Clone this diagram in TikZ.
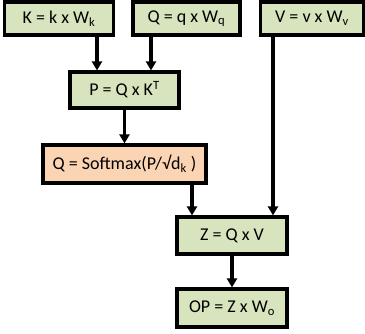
\documentclass[tikz,border=0pt]{standalone}
\usepackage{fontspec}
\setmainfont{Carlito}
\usepackage{xcolor}
\usetikzlibrary{arrows.meta,positioning,calc}

\definecolor{boxgreen}{HTML}{D7E4BD}
\definecolor{boxorange}{HTML}{FBD4B4}

\tikzset{
    opbox/.style={draw=black, line width=3.2pt, fill=boxgreen, inner sep=0pt,
        font=\fontsize{18}{20}\selectfont},
    arr/.style={line width=3.2pt, -{Triangle[length=9pt,width=10pt]}}
}

\begin{document}
\begin{tikzpicture}[x=1pt,y=-1pt]
    \useasboundingbox (0,0) rectangle (365,333);

    % Input projections
    \node[opbox, minimum width=109pt, minimum height=33pt] (K) at (59,18.5) {K = k x W\textsubscript{k}};
    \node[opbox, minimum width=107pt, minimum height=33pt] (Q) at (186.5,18.5) {Q = q x W\textsubscript{q}};
    \node[opbox, minimum width=103pt, minimum height=33pt] (V) at (312,18.5) {V = v x W\textsubscript{v}};

    % Scores and softmax
    \node[opbox, minimum width=109pt, minimum height=36pt] (P) at (124.5,90) {P = Q x K\textsuperscript{T}};
    \node[opbox, fill=boxorange, minimum width=163pt, minimum height=38pt] (S) at (124.5,164) {Q = Softmax(P/√d\textsubscript{k} )};

    % Output
    \node[opbox, minimum width=110pt, minimum height=37pt] (Z) at (232,235.5) {Z = Q x V};
    \node[opbox, minimum width=110pt, minimum height=38pt] (OP) at (232,308) {OP = Z x W\textsubscript{o}};

    % Arrows
    \draw[arr] ([xshift=38pt]K.south) coordinate (k1) -- (k1 |- P.north);
    \draw[arr] ([xshift=-35.5pt]Q.south) coordinate (q1) -- (q1 |- P.north);
    \draw[arr] (P.south) -- (S.north);
    \draw[arr] ([xshift=67.5pt]S.south) coordinate (s1) -- (s1 |- Z.north);
    \draw[arr] ([xshift=-39pt]V.south) coordinate (v1) -- (v1 |- Z.north);
    \draw[arr] (Z.south) -- (OP.north);
\end{tikzpicture}
\end{document}
